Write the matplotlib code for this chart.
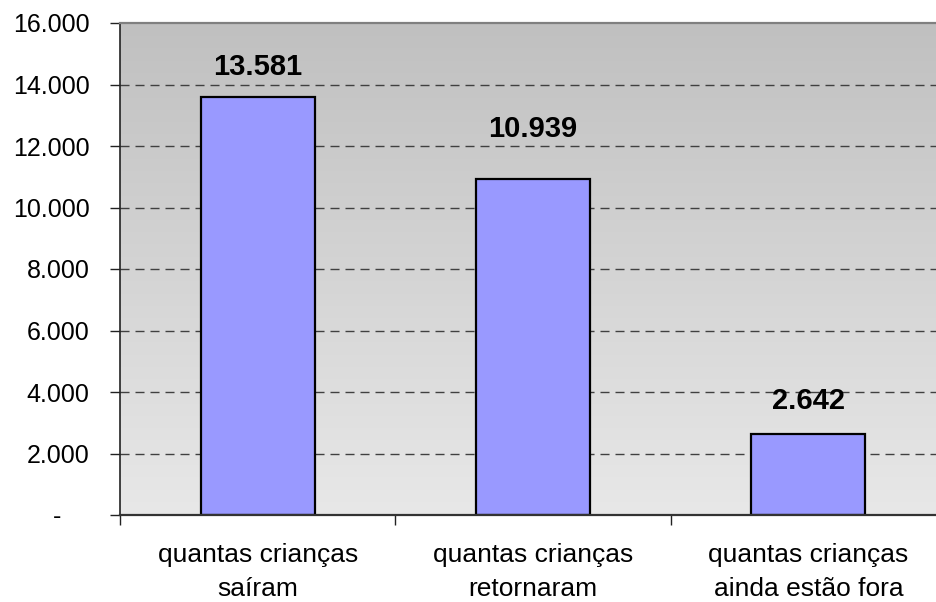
import numpy as np
import matplotlib.pyplot as plt
from matplotlib.colors import LinearSegmentedColormap
from matplotlib.ticker import FuncFormatter

categories = ["quantas crianças\nsaíram", "quantas crianças\nretornaram", "quantas crianças\nainda estão fora"]
values = [13581, 10939, 2642]
value_labels = ["13.581", "10.939", "2.642"]
label_y = [14580, 12560, 3720]
yticks = [0, 2000, 4000, 6000, 8000, 10000, 12000, 14000, 16000]

plt.rcParams['font.family'] = ['Liberation Sans', 'DejaVu Sans']

fig = plt.figure(figsize=(9.37, 6.02), dpi=100)
ax = fig.add_axes([120 / 937, 1 - 515 / 602, 826 / 937, 492 / 602])

x = np.arange(len(categories))
ax.set_xlim(-0.5, 2.5)
ax.set_ylim(0, 16000)

# gradient background, darker at the top
grad = np.linspace(0, 1, 256).reshape(-1, 1)
bg = LinearSegmentedColormap.from_list('bg', ['#c0c0c0', '#e8e8e8'])
ax.imshow(grad, extent=[-0.5, 2.5, 0, 16000], aspect='auto', origin='upper', cmap=bg, zorder=0)

for t in yticks[1:-1]:
    ax.axhline(t, color='#404040', linestyle=(0, (6.5, 4.3)), linewidth=1.0, zorder=1)

ax.bar(x, values, width=0.414, color='#9999ff', edgecolor='black', linewidth=1.6, zorder=2)
for xi, ly, lab in zip(x, label_y, value_labels):
    ax.text(xi, ly, lab, ha='center', va='center', fontsize=21, fontweight='bold', zorder=3)


def fmt(v, pos):
    # excel accounting style: zero shown as a dash, set back from the right
    if v == 0:
        return '-    '
    return f"{int(v):,}".replace(',', '.')


ax.set_yticks(yticks)
ax.yaxis.set_major_formatter(FuncFormatter(fmt))
ax.tick_params(axis='y', labelsize=18, length=7, width=1, pad=15, color='#222222')

ax.set_xticks([-0.5, 0.5, 1.5, 2.5])
ax.set_xticklabels([])
ax.set_xticks(x, minor=True)
ax.set_xticklabels(categories, minor=True, fontsize=19, linespacing=1.55)
ax.tick_params(axis='x', which='major', length=7, width=1, color='#222222')
ax.tick_params(axis='x', which='minor', length=0, pad=20)

ax.spines['top'].set_color('#808080')
ax.spines['top'].set_linewidth(1.6)
ax.spines['right'].set_visible(False)
ax.spines['left'].set_color('#222222')
ax.spines['bottom'].set_color('#333333')
ax.spines['left'].set_linewidth(1.2)
ax.spines['bottom'].set_linewidth(1.6)

fig.savefig("out.png", dpi=100)
